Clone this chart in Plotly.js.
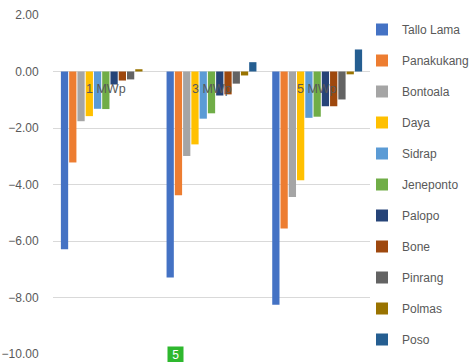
<!DOCTYPE html>
<html><head><meta charset="utf-8">
<script src="https://cdn.plot.ly/plotly-3.0.1.min.js"></script>
<style>html,body{margin:0;padding:0;background:#fff}#c{width:473px;height:362px}</style>
</head><body><div id="c"></div>
<script>
const categories = ["1 MWp", "3 MWp", "5 MWp"];
const seriesNames = ["Tallo Lama","Panakukang","Bontoala","Daya","Sidrap","Jeneponto","Palopo","Bone","Pinrang","Polmas","Poso"];
const talloLama  = [-6.29, -7.29, -8.26];
const panakukang = [-3.22, -4.38, -5.56];
const bontoala   = [-1.76, -2.99, -4.44];
const daya       = [-1.58, -2.58, -3.85];
const sidrap     = [-1.32, -1.67, -1.64];
const jeneponto  = [-1.33, -1.48, -1.60];
const palopo     = [-0.46, -0.85, -1.23];
const bone       = [-0.32, -0.81, -1.23];
const pinrang    = [-0.28, -0.43, -0.99];
const polmas     = [0.08, -0.14, -0.10];
const poso       = [0.00, 0.33, 0.78];
const seriesValues = [talloLama,panakukang,bontoala,daya,sidrap,jeneponto,palopo,bone,pinrang,polmas,poso];
const colors = ["#4472c4","#ed7d31","#a5a5a5","#ffc000","#5b9bd5","#70ad47","#264478","#9e480e","#636363","#997300","#255e91"];
const yTicks = [-10,-8,-6,-4,-2,0,2];
const badgeText = "5";

const traces = seriesNames.map((n,i)=>({
  type:'bar', name:n, x:categories, y:seriesValues[i], legendgroup:'g'+i,
  marker:{color:colors[i], line:{width:0}}
}));

const annotations = categories.map(c=>({
  x:c, y:-0.62, xref:'x', yref:'y', text:c, showarrow:false,
  font:{family:'Liberation Sans, Arial', size:12.5, color:'#595959'}, yanchor:'middle'
}));
annotations.push({
  xref:'paper', yref:'paper', x:(175-53)/317, y:(354-346)/339, yanchor:'top', xanchor:'center',
  text:'&nbsp;'+badgeText+'&nbsp;', showarrow:false, bgcolor:'#2eb82e', borderpad:1,
  font:{family:'Liberation Sans, Arial', size:12, color:'#ffffff'}
});

const layout = {
  width:473, height:362,
  margin:{l:53, r:103, t:15, b:8, autoexpand:false},
  paper_bgcolor:'#ffffff', plot_bgcolor:'#ffffff',
  barmode:'group', bargap:0.14, bargroupgap:0.12,
  font:{family:'Liberation Sans, Arial', size:11, color:'#595959'},
  xaxis:{showticklabels:false, showgrid:false, zeroline:false, showline:false, ticks:''},
  yaxis:{range:[-10,2], tickvals:yTicks, tickformat:'.2f', showgrid:true, gridcolor:'#d9d9d9', gridwidth:1,
         zeroline:true, zerolinecolor:'#d9d9d9', zerolinewidth:1, showline:false,
         ticks:'outside', ticklen:11, tickcolor:'rgba(0,0,0,0)',
         tickfont:{size:12, color:'#595959'}, automargin:false},
  legend:{xref:'container', x:362/473, xanchor:'left', yref:'paper', y:1.0, yanchor:'top',
          traceorder:'grouped', tracegroupgap:12,
          font:{size:12, color:'#595959'}, bgcolor:'rgba(0,0,0,0)'},
  annotations:annotations,
  showlegend:true
};
Plotly.newPlot('c', traces, layout, {displayModeBar:false, staticPlot:true});
</script></body></html>
